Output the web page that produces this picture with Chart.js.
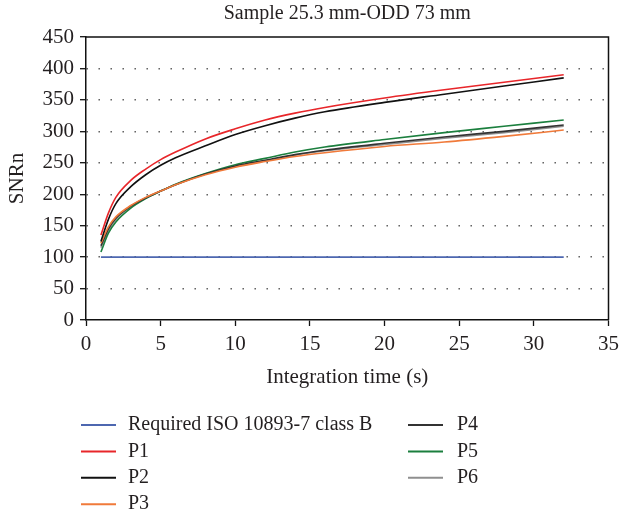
<!DOCTYPE html>
<html>
<head>
<meta charset="utf-8">
<script src="https://cdn.jsdelivr.net/npm/chart.js@4/dist/chart.umd.min.js"></script>
<style>
  html, body { margin: 0; padding: 0; background: #fff; }
  #wrap { width: 625px; height: 516px; }
</style>
</head>
<body>
<div id="wrap"><canvas id="chart" width="625" height="516"></canvas></div>
<script>
// values
const chartTitle = 'Sample 25.3 mm-ODD 73 mm';
const xTitle = 'Integration time (s)';
const yTitle = 'SNRn';
const times = [1, 1.5, 2, 3, 4, 5, 6, 8, 10, 12, 14, 16, 20, 24, 28, 32];
const seriesNames = ['Required ISO 10893-7 class B', 'P1', 'P2', 'P3', 'P4', 'P5', 'P6'];
const required = [100, 100, 100, 100, 100, 100, 100, 100, 100, 100, 100, 100, 100, 100, 100, 100];
const p1 = [135, 170, 195, 222, 240, 255, 267, 288, 304, 318, 329, 338, 353, 366, 378, 390];
const p2 = [125, 160, 185, 212, 231, 246, 258, 277, 295, 309, 321, 331, 346, 359, 372, 385];
const p3 = [122, 148, 164, 182, 195, 205, 215, 231, 243, 252, 260, 266, 276, 283, 292, 302];
const p4 = [118, 145, 162, 181, 194, 205, 215, 232, 245, 254, 263, 270, 281, 291, 300, 310];
const p5 = [108, 138, 156, 178, 193, 205, 216, 233, 247, 257, 267, 275, 287, 298, 308, 318];
const p6 = [115, 142, 160, 180, 194, 205, 215, 232, 244, 253, 262, 269, 279, 289, 298, 308];
const xTicks = [0, 35, 5];   // min, max, step
const yTicks = [0, 450, 50];

const FONT = '"Liberation Serif", "DejaVu Serif", serif';
const TEXT = '#231f20';

const series = [required, p1, p2, p3, p4, p5, p6];
const lineColors = ['#4d67b0', '#e8262a', '#111111', '#f07a3a', '#333333', '#1b7f3e', '#8f8f8f'];

const datasets = series.map((vals, i) => ({
  label: seriesNames[i],
  data: vals.map((v, j) => ({ x: times[j], y: v })),
  borderColor: lineColors[i],
  backgroundColor: lineColors[i],
  borderWidth: 1.6,
  pointRadius: 0,
  cubicInterpolationMode: 'monotone',
  fill: false
}));

// title centred over the plot, frame on top/right, legend in two columns
const decor = {
  id: 'decor',
  afterDraw(chart) {
    const { ctx, chartArea: a } = chart;
    ctx.save();
    ctx.strokeStyle = '#111';
    ctx.lineWidth = 1.5;
    ctx.beginPath();
    ctx.moveTo(a.left, a.top);
    ctx.lineTo(a.right, a.top);
    ctx.lineTo(a.right, a.bottom);
    ctx.stroke();

    ctx.fillStyle = TEXT;
    ctx.font = '20px ' + FONT;
    ctx.textAlign = 'center';
    ctx.textBaseline = 'middle';
    ctx.fillText(chartTitle, (a.left + a.right) / 2, 14);

    ctx.textAlign = 'left';
    chart.data.datasets.forEach((ds, i) => {
      const col = i < 4 ? 0 : 1;
      const row = i < 4 ? i : i - 4;
      const x0 = col === 0 ? 81 : 408;
      const tx = col === 0 ? 128 : 457;
      const y = 425 + row * 26.4;
      ctx.strokeStyle = ds.borderColor;
      ctx.lineWidth = 2;
      ctx.beginPath();
      ctx.moveTo(x0, y);
      ctx.lineTo(x0 + 35, y);
      ctx.stroke();
      ctx.fillText(ds.label, tx, y);
    });
    ctx.restore();
  }
};

new Chart(document.getElementById('chart'), {
  type: 'line',
  data: { datasets },
  options: {
    responsive: false,
    animation: false,
    layout: { padding: { left: 0, right: 14, top: 37, bottom: 126 } },
    plugins: {
      legend: { display: false },
      title: { display: false },
      tooltip: { enabled: false }
    },
    scales: {
      x: {
        type: 'linear',
        min: xTicks[0],
        max: xTicks[1],
        ticks: { stepSize: xTicks[2], color: TEXT, font: { family: FONT, size: 21 }, padding: 6, maxRotation: 0 },
        grid: { drawOnChartArea: false, tickLength: 6, tickColor: '#111', tickWidth: 1.3 },
        border: { color: '#111', width: 1.5 },
        title: { display: true, text: xTitle, color: TEXT, font: { family: FONT, size: 21 }, padding: { top: 4, bottom: 0 } },
        afterFit(scale) { scale.height = 70; }
      },
      y: {
        min: yTicks[0],
        max: yTicks[1],
        ticks: { stepSize: yTicks[2], color: TEXT, font: { family: FONT, size: 21 }, padding: 6 },
        grid: {
          color: (c) => (c.tick && (c.tick.value === yTicks[0] || c.tick.value === yTicks[1])) ? 'rgba(0,0,0,0)' : '#555',
          lineWidth: 1.4,
          tickColor: '#111',
          tickWidth: 1.3,
          tickLength: 6,
          tickBorderDash: []
        },
        // in v4 border.dash is what dashes the grid lines
        border: { color: '#111', width: 1.5, dash: [1.4, 10.6] },
        title: { display: true, text: yTitle, color: TEXT, font: { family: FONT, size: 21 }, padding: { top: 5, bottom: 0 } },
        afterFit(scale) { scale.width = 86; }
      }
    }
  },
  plugins: [decor]
});
</script>
</body>
</html>
